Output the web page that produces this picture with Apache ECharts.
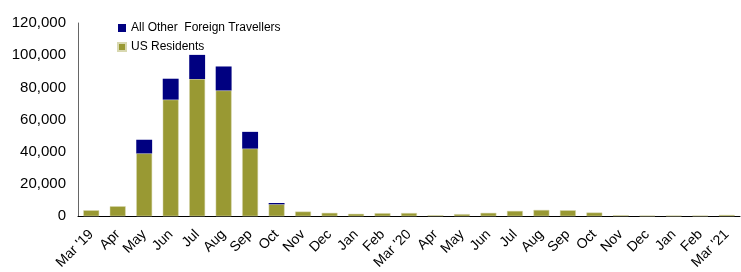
<!DOCTYPE html>
<html>
<head>
<meta charset="utf-8">
<script src="https://cdn.jsdelivr.net/npm/echarts@6/dist/echarts.min.js"></script>
<style>
  html, body { margin: 0; padding: 0; background: #fff; }
  #main { width: 741px; height: 272px; }
</style>
</head>
<body>
<div id="main"></div>
<script>
// months on the x axis
var months = ['Mar \'19', 'Apr', 'May', 'Jun', 'Jul', 'Aug', 'Sep', 'Oct', 'Nov', 'Dec', 'Jan', 'Feb',
  'Mar \'20', 'Apr', 'May', 'Jun', 'Jul', 'Aug', 'Sep', 'Oct', 'Nov', 'Dec', 'Jan', 'Feb', 'Mar \'21'];

// US residents
var usResidents = [3700, 6200, 39000, 72400, 85200, 78100, 42000, 7400, 2900, 2100, 1500, 1900,
  2000, 600, 1300, 2100, 3300, 3900, 3700, 2300, 600, 400, 400, 400, 800];

// all other foreign travellers, stacked on top
var otherForeign = [0, 0, 8500, 13000, 15000, 14900, 10400, 800, 0, 0, 0, 0,
  0, 0, 0, 0, 0, 0, 0, 0, 0, 0, 0, 0, 0];

var myChart = echarts.init(document.getElementById('main'));

var option = {
  animation: false,
  textStyle: { fontFamily: 'Liberation Sans, Arial, sans-serif' },
  grid: { left: 78, right: 1, top: 23, bottom: 55, containLabel: false },
  legend: {
    orient: 'vertical',
    left: 112,
    top: 17,
    itemWidth: 8,
    itemHeight: 8,
    itemGap: 7,
    icon: 'rect',
    textStyle: { fontSize: 12, color: '#000' },
    data: ['All Other  Foreign Travellers', 'US Residents']
  },
  xAxis: {
    type: 'category',
    data: months,
    axisLine: { lineStyle: { color: '#000', width: 1 } },
    axisTick: { show: false },
    axisLabel: { rotate: 45, interval: 0, fontSize: 14, color: '#000', margin: 16 }
  },
  yAxis: {
    type: 'value',
    min: 0,
    max: 120000,
    interval: 20000,
    splitLine: { show: false },
    axisTick: { show: false },
    axisLine: { show: true, lineStyle: { color: '#666', width: 1 } },
    axisLabel: {
      fontSize: 15,
      color: '#000',
      margin: 12,
      formatter: function (v) { return v.toLocaleString('en-US'); }
    }
  },
  series: [
    {
      name: 'US Residents',
      type: 'bar',
      stack: 'total',
      barWidth: '60%',
      data: usResidents,
      itemStyle: { color: '#999933', borderColor: '#d8d8b0', borderWidth: 0.5 }
    },
    {
      name: 'All Other  Foreign Travellers',
      type: 'bar',
      stack: 'total',
      barWidth: '60%',
      data: otherForeign,
      itemStyle: { color: '#000080' }
    }
  ]
};

myChart.setOption(option);
</script>
</body>
</html>
